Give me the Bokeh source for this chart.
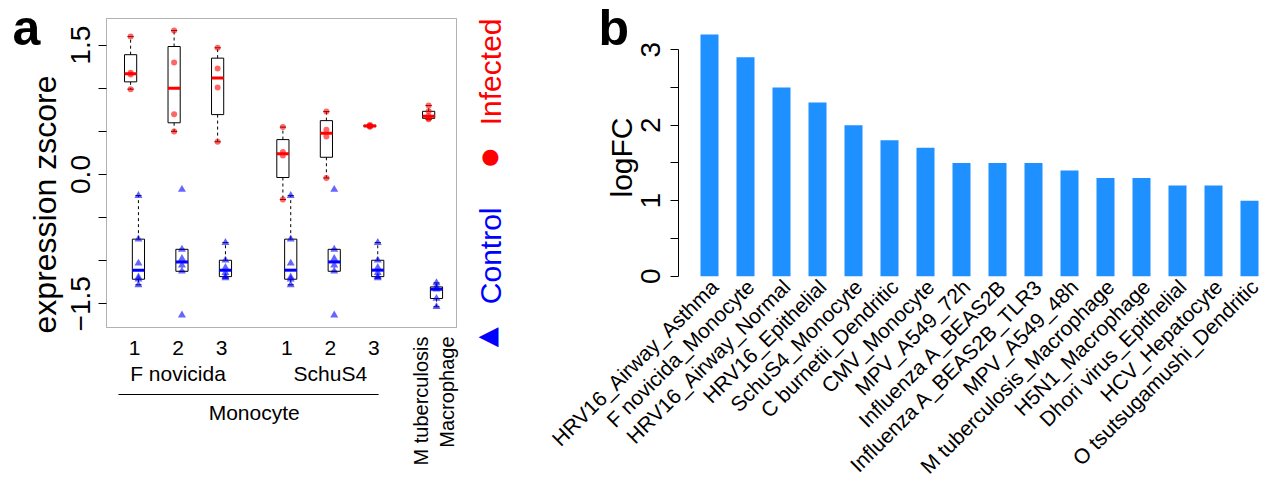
import numpy as np
from bokeh.plotting import figure
from bokeh.layouts import row
from bokeh.models import FixedTicker, Label, Arrow, Range1d, ColumnDataSource, BoxAnnotation
from bokeh.embed import file_html
from bokeh.resources import INLINE

FONT = "Liberation Sans"

# ---------------- Panel a data ----------------
group_numbers = ["1", "2", "3", "1", "2", "3"]
strain_names = ["F novicida", "SchuS4"]
cell_type_monocyte = "Monocyte"
mtb_label = ["M tuberculosis", "Macrophage"]
legend_labels = ["Infected", "Control"]

infected_values = [
    [1.60, 1.18, 1.16, 0.99],
    [1.67, 1.30, 0.70, 0.50],
    [1.47, 1.23, 1.01, 0.38],
    [0.55, 0.26, 0.22, -0.29],
    [0.73, 0.52, 0.44, -0.04],
    [0.575, 0.567, 0.560, 0.553],
    [0.80, 0.733, 0.675, 0.652, 0.64],
]
control_values = [
    [-0.245, -0.75, -1.03, -1.19, -1.215, -1.28],
    [-0.174, -0.868, -0.976, -1.053, -1.123, -1.632],
    [-0.79, -0.995, -1.08, -1.14, -1.185, -1.20],
    [-0.245, -0.75, -1.03, -1.19, -1.215, -1.28],
    [-0.174, -0.868, -0.976, -1.053, -1.123, -1.632],
    [-0.79, -0.995, -1.08, -1.14, -1.185, -1.20],
    [-1.258, -1.304, -1.331, -1.439, -1.535],
]

# ---------------- Panel b data ----------------
conditions = [
    "HRV16_Airway_Asthma", "F novicida_Monocyte", "HRV16_Airway_Normal",
    "HRV16_Epithelial", "SchuS4_Monocyte", "C burnetii_Dendritic",
    "CMV_Monocyte", "MPV_A549_72h", "Influenza A_BEAS2B",
    "Influenza A_BEAS2B_TLR3", "MPV_A549_48h", "M tuberculosis_Macrophage",
    "H5N1_Macrophage", "Dhori virus_Epithelial", "HCV_Hepatocyte",
    "O tsutsugamushi_Dendritic",
]
logfc = [3.2, 2.9, 2.5, 2.3, 2.0, 1.8, 1.7, 1.5, 1.5, 1.5, 1.4, 1.3, 1.3, 1.2, 1.2, 1.0]

# ---------------- layout constants ----------------
H = 478
A_W = 520
B_W = 1266 - A_W
GROUP_X = [1, 2, 3, 4.5, 5.5, 6.5, 7.85]
OFFSET = 0.09
BOX_W = 0.28
STAPLE_W = 0.14

# panel a: 43.51 px per group unit, 86.19 px per zscore unit; plot box at px 106..456 x 18..327
A_SX, A_SY = 43.51, 86.19
XA = (0.356 - 106 / A_SX, 0.356 + (A_W - 106) / A_SX)
YA = (1.81 - (H - 18) / A_SY, 1.81 + 18 / A_SY)
# panel b: 36 px per bar slot, 75.5 px per logFC unit; first bar centre at px 709, zero at px 275.7
B_SX, B_SY = 36.0, 75.5
XB = (1 - (709 - A_W) / B_SX, 1 + (1266 - 709) / B_SX)
YB = (-(H - 275.7) / B_SY, 275.7 / B_SY)


def ax(px):
    return XA[0] + px / A_SX


def ay(py):
    return YA[1] - py / A_SY


def bx(px):
    return XB[0] + (px - A_W) / B_SX


def by(py):
    return YB[1] - py / B_SY


BOX_X = (ax(106), ax(456))
BOX_Y = (ay(327), ay(18))


def fivenum(v):
    x = np.sort(np.asarray(v, dtype=float))
    n = len(x)
    n4 = np.floor((n + 3) / 2) / 2
    d = np.array([1, n4, (n + 1) / 2, n + 1 - n4, n])
    return 0.5 * (x[np.floor(d).astype(int) - 1] + x[np.ceil(d).astype(int) - 1])


def box_stats(v):
    x = np.asarray(v, dtype=float)
    _, q1, med, q3, _ = fivenum(x)
    iqr = q3 - q1
    wlo = x[x >= q1 - 1.5 * iqr].min()
    whi = x[x <= q3 + 1.5 * iqr].max()
    return wlo, q1, med, q3, whi


def add_label(p, text, x, y, size, color="black", angle=0.0, align="center",
              baseline="middle", style="normal", font=FONT):
    p.add_layout(Label(x=x, y=y, text=text, text_font=font, text_font_size=size,
                       text_color=color, angle=angle, text_align=align,
                       text_baseline=baseline, text_font_style=style))


def style_yaxis(ax_, tick_standoff):
    ax_.major_label_orientation = "vertical"
    ax_.major_label_text_font = FONT
    ax_.major_label_text_font_size = "28px"
    ax_.major_label_text_color = "black"
    ax_.major_label_standoff = tick_standoff
    ax_.major_tick_out = 8
    ax_.major_tick_in = 0
    ax_.minor_tick_out = 8
    ax_.minor_tick_in = 0
    ax_.major_tick_line_color = "black"
    ax_.minor_tick_line_color = "black"


def base_figure(width, xr, yr):
    p = figure(width=width, height=H, x_range=Range1d(*xr), y_range=Range1d(*yr),
               min_border=0, output_backend="svg", toolbar_location=None, title=None)
    p.xaxis.visible = False
    p.grid.visible = False
    p.outline_line_color = None
    return p


# ---------------- Panel a ----------------
pa = base_figure(A_W, XA, YA)
pa.add_layout(BoxAnnotation(left=BOX_X[0], right=BOX_X[1], bottom=BOX_Y[0], top=BOX_Y[1],
                            fill_color=None, line_color="black", line_width=1))

ya = pa.yaxis[0]
ya.fixed_location = BOX_X[0]
ya.ticker = FixedTicker(ticks=[-1.5, 0, 1.5], minor_ticks=[-1.0, -0.5, 0.5, 1.0])
ya.major_label_overrides = {1.5: "1.5", 0: "0.0", -1.5: "\u22121.5"}
ya.axis_line_color = None
style_yaxis(ya, 8)
add_label(pa, "expression zscore", ax(44), ay(204), "32px", angle=np.pi / 2)

for values_list, off, color, marker, psize in [
    (infected_values, -OFFSET, "#FF0000", "circle", 6),
    (control_values, OFFSET, "#0000FF", "triangle", 8),
]:
    xs, wlo, q1, med, q3, whi = [], [], [], [], [], []
    px, py = [], []
    for gx, vals in zip(GROUP_X, values_list):
        s = box_stats(vals)
        x = gx + off
        xs.append(x)
        wlo.append(s[0]); q1.append(s[1]); med.append(s[2]); q3.append(s[3]); whi.append(s[4])
        px.extend([x] * len(vals)); py.extend(vals)
    xs = np.array(xs)
    src = ColumnDataSource(dict(x=xs, l=xs - BOX_W / 2, r=xs + BOX_W / 2,
                                sl=xs - STAPLE_W / 2, sr=xs + STAPLE_W / 2,
                                wlo=wlo, q1=q1, med=med, q3=q3, whi=whi))
    pa.segment(x0="x", y0="q3", x1="x", y1="whi", source=src, line_color="black",
               line_width=1, line_dash="3 3")
    pa.segment(x0="x", y0="q1", x1="x", y1="wlo", source=src, line_color="black",
               line_width=1, line_dash="3 3")
    pa.segment(x0="sl", y0="whi", x1="sr", y1="whi", source=src, line_color="black", line_width=1)
    pa.segment(x0="sl", y0="wlo", x1="sr", y1="wlo", source=src, line_color="black", line_width=1)
    pa.quad(left="l", right="r", bottom="q1", top="q3", source=src, fill_color=None,
            line_color="black", line_width=1)
    pa.scatter(px, py, marker=marker, size=psize, fill_color=color, fill_alpha=0.6,
               line_color=None)
    pa.segment(x0="l", y0="med", x1="r", y1="med", source=src, line_color=color, line_width=3)

# bottom labels of panel a
for gx, t in zip(GROUP_X[:6], group_numbers):
    add_label(pa, t, gx, ay(347), "21px")
add_label(pa, strain_names[0], float(np.mean(GROUP_X[0:3])), ay(373), "21px")
add_label(pa, strain_names[1], float(np.mean(GROUP_X[3:6])), ay(373), "21px")
pa.add_layout(Arrow(start=None, end=None, x_start=GROUP_X[0] - 0.37, x_end=GROUP_X[5] + 0.11,
                    y_start=ay(394), y_end=ay(394), line_color="black", line_width=1))
add_label(pa, cell_type_monocyte, (GROUP_X[0] + GROUP_X[5]) / 2, ay(412), "21px")
add_label(pa, mtb_label[0], GROUP_X[6] - 0.27, ay(336), "20px", angle=np.pi / 2, align="right")
add_label(pa, mtb_label[1], GROUP_X[6] + 0.34, ay(336), "20px", angle=np.pi / 2, align="right")

# legend (rotated) on the right of panel a
add_label(pa, legend_labels[0], ax(490), ay(18), "30px", color="#FF0000",
          angle=np.pi / 2, align="right")
add_label(pa, "\u25CF", ax(490), ay(155), "21px", color="#FF0000", font="DejaVu Sans")
add_label(pa, legend_labels[1], ax(490), ay(207), "30px", color="#0000FF",
          angle=np.pi / 2, align="right")
add_label(pa, "\u25C0", ax(488), ay(334), "26px", color="#0000FF", font="DejaVu Sans")

# panel letter
add_label(pa, "a", ax(12), ay(27), "50px", align="left", style="bold")

# ---------------- Panel b ----------------
bars_x = list(range(1, len(conditions) + 1))
pb = base_figure(B_W, XB, YB)
pb.vbar(x=bars_x, top=logfc, width=0.5, bottom=0, fill_color="#1E90FF", line_color=None)

yb = pb.yaxis[0]
yb.fixed_location = bx(678)
yb.ticker = FixedTicker(ticks=[0, 1, 2, 3], minor_ticks=[0.5, 1.5, 2.5])
yb.bounds = (0, 3)
yb.axis_line_color = "black"
style_yaxis(yb, 10)
add_label(pb, "logFC", bx(621), by(157), "30px", angle=np.pi / 2)

# rotated category labels under the bars
for xi, name in zip(bars_x, conditions):
    add_label(pb, name, xi + 5 / B_SX, -7 / B_SY, "21px", angle=np.pi / 4, align="right")

add_label(pb, "b", bx(598), by(27), "50px", align="left", style="bold")

layout = row(pa, pb)
open("out.html", "w").write(file_html(layout, INLINE))
